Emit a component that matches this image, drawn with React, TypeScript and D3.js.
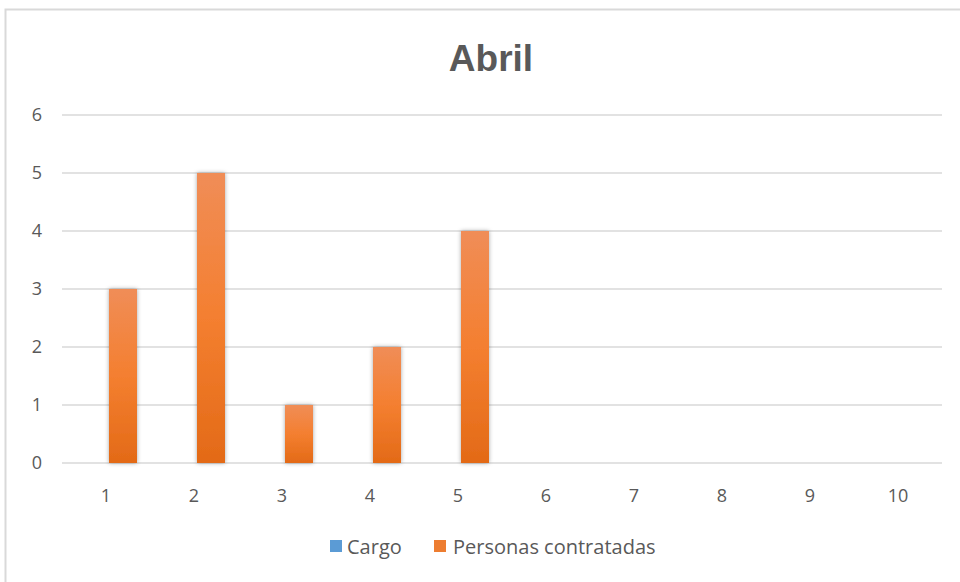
import React, { useEffect, useRef } from 'react';
import * as d3 from 'd3';

const categories = ['1', '2', '3', '4', '5', '6', '7', '8', '9', '10'];
const seriesNames = ['Cargo', 'Personas contratadas'];
const cargo = [0, 0, 0, 0, 0, 0, 0, 0, 0, 0];
const personas = [3, 5, 1, 2, 4, 0, 0, 0, 0, 0];
const yTicks = [0, 1, 2, 3, 4, 5, 6];
const seriesColors = ['#5b9bd5', '#ed7d31'];

const FONT = "'Liberation Sans', Arial, sans-serif";
const LABEL_FONT = "'Open Sans', 'Liberation Sans', sans-serif";

const App = () => {
  const svgRef = useRef<SVGSVGElement>(null);

  useEffect(() => {
    const svg = d3.select(svgRef.current);
    svg.selectAll('*').remove();

    const W = 960;
    const H = 582;
    const margin = { top: 115, right: 18, bottom: 119, left: 62 };
    const width = W - margin.left - margin.right;
    const height = H - margin.top - margin.bottom;

    const defs = svg.append('defs');
    const grad = defs.append('linearGradient')
      .attr('id', 'orangeGrad')
      .attr('x1', 0).attr('y1', 0).attr('x2', 0).attr('y2', 1);
    grad.append('stop').attr('offset', '0%').attr('stop-color', '#f08d57');
    grad.append('stop').attr('offset', '50%').attr('stop-color', '#f47f30');
    grad.append('stop').attr('offset', '100%').attr('stop-color', '#e36a17');

    const shadow = defs.append('filter')
      .attr('id', 'barShadow')
      .attr('x', '-50%').attr('y', '-10%')
      .attr('width', '200%').attr('height', '120%');
    shadow.append('feDropShadow')
      .attr('dx', 0).attr('dy', 0)
      .attr('stdDeviation', 2.2)
      .attr('flood-color', '#000')
      .attr('flood-opacity', 0.35);

    // background and chart frame
    svg.append('rect').attr('width', W).attr('height', H).attr('fill', '#fff');
    svg.append('rect')
      .attr('x', 5.5).attr('y', 9.5)
      .attr('width', 1000).attr('height', 1000)
      .attr('fill', 'none')
      .attr('stroke', '#d9d9d9')
      .attr('stroke-width', 2);

    // title
    svg.append('text')
      .attr('x', 491)
      .attr('y', 71)
      .attr('text-anchor', 'middle')
      .style('font-family', FONT)
      .style('font-size', '37px')
      .style('font-weight', 'bold')
      .style('fill', '#595959')
      .text('Abril');

    const g = svg.append('g')
      .attr('transform', `translate(${margin.left},${margin.top})`);

    const x0 = d3.scaleBand()
      .domain(categories)
      .range([0, width])
      .paddingInner(0)
      .paddingOuter(0);

    const x1 = d3.scaleBand()
      .domain(seriesNames)
      .range([x0.bandwidth() / 2 - 25, x0.bandwidth() / 2 + 31])
      .padding(0);

    const y = d3.scaleLinear().domain([0, 6]).range([height, 0]);

    // gridlines
    g.selectAll('.grid')
      .data(yTicks)
      .enter().append('line')
      .attr('x1', 0).attr('x2', width)
      .attr('y1', d => y(d)).attr('y2', d => y(d))
      .attr('stroke', '#d9d9d9')
      .attr('stroke-width', 1.5);

    // y labels
    g.selectAll('.ylab')
      .data(yTicks)
      .enter().append('text')
      .attr('x', -20)
      .attr('y', d => y(d))
      .attr('dy', '0.36em')
      .attr('text-anchor', 'end')
      .style('font-family', LABEL_FONT)
      .style('font-size', '18px')
      .style('fill', '#595959')
      .text(d => d);

    // x labels
    g.selectAll('.xlab')
      .data(categories)
      .enter().append('text')
      .attr('x', d => (x0(d) as number) + x0.bandwidth() / 2)
      .attr('y', height + 39)
      .attr('text-anchor', 'middle')
      .style('font-family', LABEL_FONT)
      .style('font-size', '18px')
      .style('fill', '#595959')
      .text(d => d);

    // bars
    const rows = categories.map((c, i) => ({
      cat: c,
      values: [
        { name: seriesNames[0], value: cargo[i], fill: seriesColors[0] },
        { name: seriesNames[1], value: personas[i], fill: 'url(#orangeGrad)' },
      ],
    }));

    g.selectAll('.cat')
      .data(rows)
      .enter().append('g')
      .attr('transform', d => `translate(${x0(d.cat)},0)`)
      .selectAll('rect')
      .data(d => d.values.filter(v => v.value > 0))
      .enter().append('rect')
      .attr('x', d => x1(d.name) as number)
      .attr('width', x1.bandwidth())
      .attr('y', d => y(d.value))
      .attr('height', d => y(0) - y(d.value))
      .attr('fill', d => d.fill)
      .attr('filter', 'url(#barShadow)');

    // legend
    const legendItems = [
      { name: seriesNames[0], color: seriesColors[0], sx: 330, tx: 347 },
      { name: seriesNames[1], color: seriesColors[1], sx: 434, tx: 453 },
    ];
    const leg = svg.append('g');
    leg.selectAll('rect')
      .data(legendItems)
      .enter().append('rect')
      .attr('x', d => d.sx)
      .attr('y', 540)
      .attr('width', 12)
      .attr('height', 12)
      .attr('fill', d => d.color);
    leg.selectAll('text')
      .data(legendItems)
      .enter().append('text')
      .attr('x', d => d.tx)
      .attr('y', 554)
      .style('font-family', LABEL_FONT)
      .style('font-size', '20px')
      .style('fill', '#595959')
      .text(d => d.name);
  }, []);

  return (
    <svg
      ref={svgRef}
      width={960}
      height={582}
      style={{ position: 'absolute', left: 0, top: 0, display: 'block' }}
    />
  );
};

export default App;
